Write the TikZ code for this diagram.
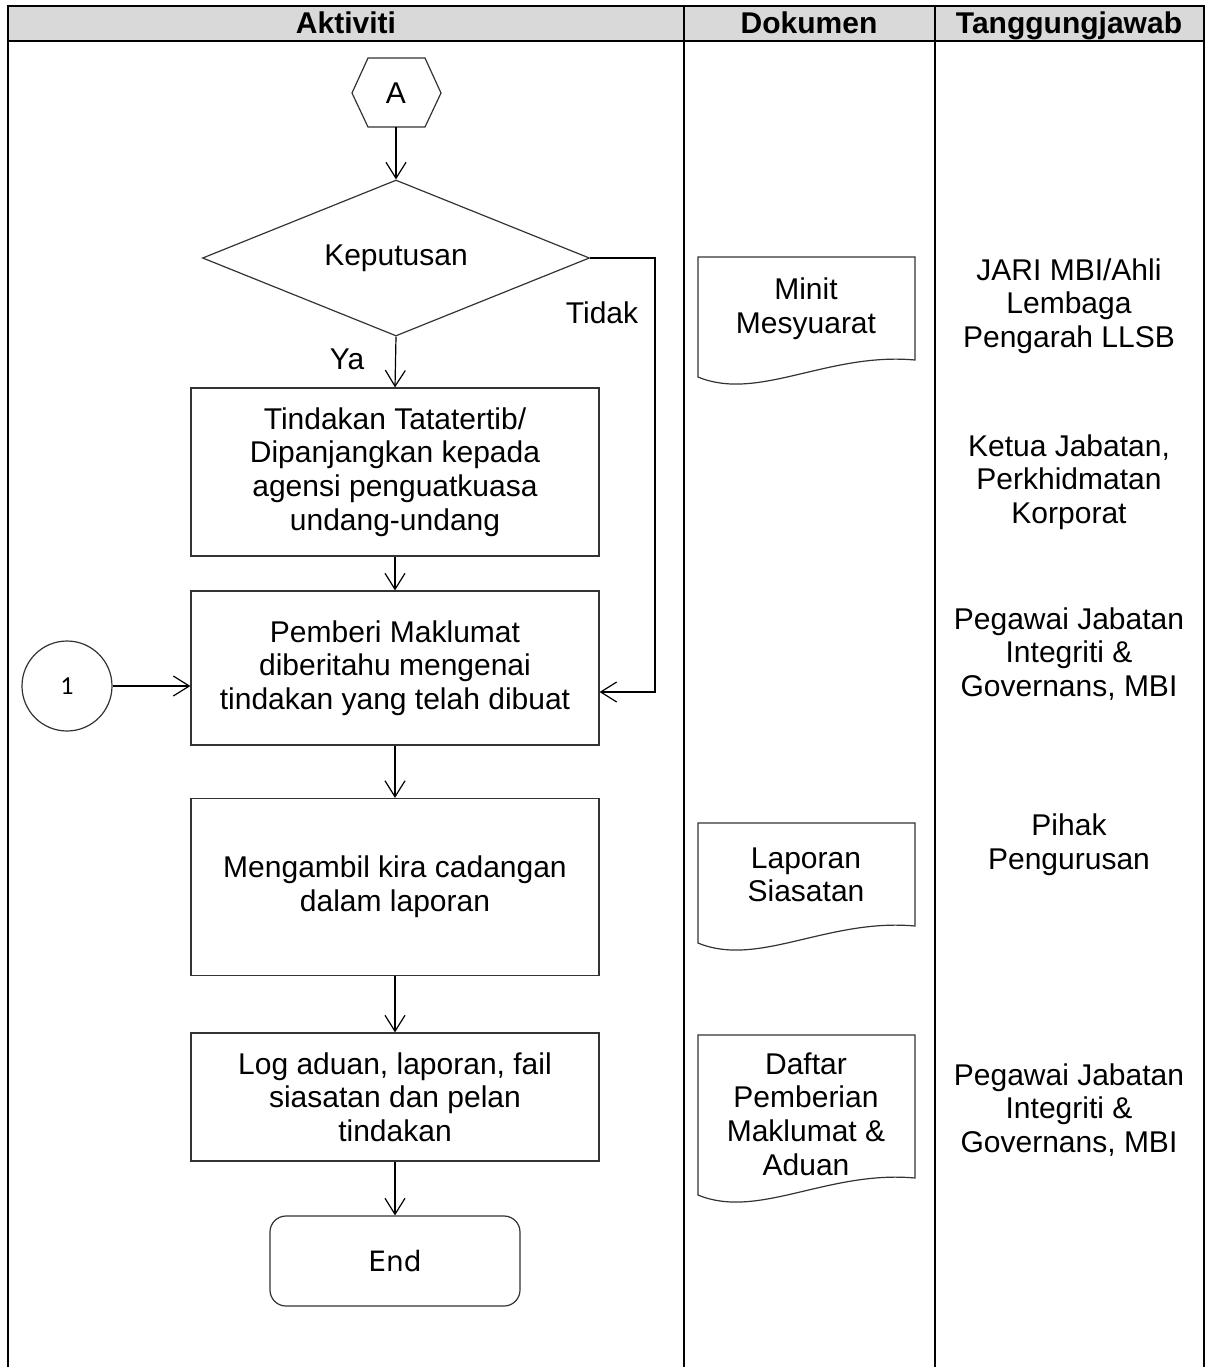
\documentclass[tikz,border=0pt]{standalone}
\usepackage{fontspec}
\setmainfont{Liberation Sans}
\newfontfamily\calfont{Carlito}
\newfontfamily\dejafont{DejaVu Sans}
\usetikzlibrary{arrows.meta,shapes.geometric}
% document symbol: x, top, height
\def\docshape(#1,#2,#3){\draw[docline] (#1,#2) -- ++(217,0) -- ++(0,#3-17) .. controls ++(-87,-8) and ++(60,25) .. (#1,#2+#3) -- cycle;}
\tikzset{
  every node/.style={font=\fontsize{15}{16.8}\selectfont},
  tableline/.style={line width=1.3pt},
  docline/.style={line width=0.6pt, draw=black!80},
  flowbox/.style={draw=black!80, line width=0.6pt, align=center, minimum width=204pt, inner sep=0pt},
  decision/.style={diamond, aspect=2.5, draw=black!80, line width=0.6pt, minimum width=193.5pt, minimum height=78pt, inner sep=0pt},
  flowarrow/.style={line width=0.6pt, -{Straight Barb[length=8pt,width=10pt]}},
  headtext/.style={font=\fontsize{15}{18}\selectfont\bfseries, anchor=base},
  crtext/.style={align=center}
}
\begin{document}
\begin{tikzpicture}[x=0.5pt, y=-0.5pt]
			%%%%% TABLE %%%%%
			\useasboundingbox (0,0) rectangle (1206,1367);
			\fill[black!15] (8,6) rectangle (1204,41);
			\draw[tableline] (8,1367) -- (8,6) -- (1204,6) -- (1204,1367);
			\draw[tableline] (8,41) -- (1204,41);
			\draw[tableline] (684,6) -- (684,1367);
			\draw[tableline] (935,6) -- (935,1367);
			
			\node[headtext] (hAktiviti) at (346,33) {Aktiviti};
			\node[headtext] (hDokumen) at (809,33) {Dokumen};
			\node[headtext] (hTanggung) at (1069,33) {Tanggungjawab};
			
			%%%%% AKTIVITI %%%%%
			\node (A) at (396,93) {A};
			\draw[line width=0.6pt, draw=black!80] (A.center) ++(-28,-35) -- ++(57,0) -- ++(16,35) -- ++(-16,34) -- ++(-57,0) -- ++(-16,-34) -- cycle;
			\coordinate (Abot) at (396,127);
			
			\node[decision] (dec) at (396,258) {Keputusan};
			\node[flowbox, minimum height=84pt] (tindakan) at (395,472) {Tindakan Tatatertib/\\Dipanjangkan kepada\\agensi penguatkuasa\\undang-undang};
			\node[flowbox, minimum height=77pt] (pemberi) at (395,668) {Pemberi Maklumat\\diberitahu mengenai\\tindakan yang telah dibuat};
			\node[flowbox, minimum height=88.5pt] (ambil) at (395,887) {Mengambil kira cadangan\\dalam laporan};
			\node[flowbox, minimum height=64pt] (logaduan) at (395,1097) {Log aduan, laporan, fail\\siasatan dan pelan\\tindakan};
			\node[draw=black!80, line width=0.6pt, rounded corners=8pt, minimum width=125pt, minimum height=45pt, font=\dejafont\fontsize{14}{16}\selectfont] (endbox) at (395,1261) {End};
			\node[draw=black!80, line width=0.6pt, circle, minimum size=45pt, inner sep=0pt, font=\calfont\fontsize{13}{15}\selectfont] (c1) at (67,686) {1};
			
			\draw[flowarrow] (Abot) -- (dec.north);
			\draw[flowarrow] (dec.south) -- (tindakan.north) node[pos=0.45, left=12pt] (ya) {Ya};
			\draw[flowarrow] (tindakan.south) -- (pemberi.north);
			\draw[flowarrow] (pemberi.south) -- (ambil.north);
			\draw[flowarrow] (ambil.south) -- (logaduan.north);
			\draw[flowarrow] (logaduan.south) -- (endbox.north);
			\draw[flowarrow] (c1.east) -- (pemberi.west |- c1.east);
			
			\coordinate (tidakturn) at (655,692);
			\draw[flowarrow] (dec.east) -| (tidakturn) -- (pemberi.east |- tidakturn);
			\node (tidak) at (602,313) {Tidak};
			
			%%%%% DOKUMEN %%%%%
			\docshape(698,257,120)
			\node[crtext] (minit) at (806,309) {Minit\\Mesyuarat};
			\docshape(698,823,120)
			\node[crtext] (laporan) at (806,875) {Laporan\\Siasatan};
			\docshape(698,1035,160)
			\node[crtext] (daftar) at (806,1114) {Daftar\\Pemberian\\Maklumat \&\\Aduan};
			
			%%%%% TANGGUNGJAWAB %%%%%
			\node[crtext] (jari) at (1069,306) {JARI MBI/Ahli\\Lembaga\\Pengarah LLSB};
			\node[crtext] (ketua) at (1069,482) {Ketua Jabatan,\\Perkhidmatan\\Korporat};
			\node[crtext] (pegawaiA) at (1069,654) {Pegawai Jabatan\\Integriti \&\\Governans, MBI};
			\node[crtext] (pihak) at (1069,845) {Pihak\\Pengurusan};
			\node[crtext] (pegawaiB) at (1069,1110) {Pegawai Jabatan\\Integriti \&\\Governans, MBI};
			
			%%%%% END %%%%%
		\end{tikzpicture}
\end{document}
